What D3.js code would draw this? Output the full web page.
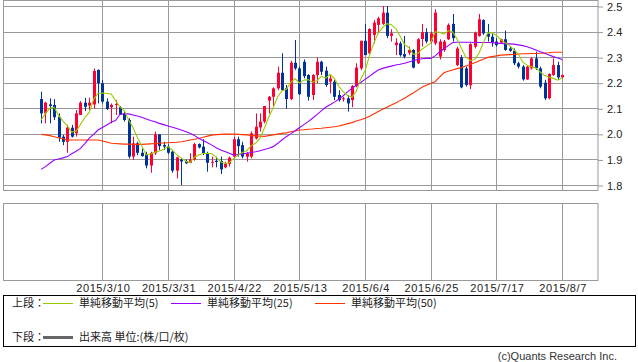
<!DOCTYPE html>
<html>
<head>
<meta charset="utf-8">
<script src="https://cdn.jsdelivr.net/npm/d3@7"></script>
<style>
body { margin: 0; background: #fff; }
text { font-family: "Liberation Sans", Arial, sans-serif; }
.jp { font-family: "Noto Sans CJK JP", sans-serif; }
</style>
</head>
<body>
<div id="chart"></div>
<script>
// daily candles, one entry per trading day (2015/2/18 .. 2015/8/7)
const openVals = [
  2.136, 2.080, 2.115, 2.113, 2.067, 1.989, 1.969, 2.024, 2.002, 2.074,
  2.122, 2.111, 2.115, 2.250, 2.198, 2.126, 2.104, 2.115, 2.104, 2.080,
  2.054, 1.911, 1.963, 1.926, 1.921, 1.876, 1.924, 1.998, 1.956, 1.950,
  1.930, 1.856, 1.900, 1.894, 1.887, 1.900, 1.960, 1.950, 1.924, 1.889,
  1.895, 1.894, 1.869, 1.882, 1.911, 1.979, 1.956, 1.911, 1.911, 1.982,
  2.025, 2.048, 2.130, 2.145, 2.178, 2.239, 2.178, 2.136, 2.278, 2.256,
  2.282, 2.230, 2.152, 2.230, 2.282, 2.247, 2.204, 2.204, 2.152, 2.135,
  2.139, 2.132, 2.187, 2.256, 2.364, 2.315, 2.387, 2.426, 2.430, 2.474,
  2.383, 2.347, 2.354, 2.312, 2.317, 2.328, 2.276, 2.371, 2.397, 2.361,
  2.354, 2.302, 2.328, 2.370, 2.430, 2.269, 2.299, 2.256, 2.190, 2.341,
  2.383, 2.445, 2.393, 2.380, 2.361, 2.357, 2.370, 2.334, 2.325, 2.276,
  2.263, 2.213, 2.256, 2.295, 2.256, 2.200, 2.139, 2.230, 2.269, 2.221
];
const highVals = [
  2.165, 2.126, 2.139, 2.136, 2.080, 1.996, 2.035, 2.035, 2.093, 2.128,
  2.141, 2.141, 2.256, 2.252, 2.211, 2.139, 2.119, 2.132, 2.109, 2.087,
  2.061, 1.989, 1.969, 1.943, 1.930, 1.930, 2.009, 1.998, 1.969, 1.959,
  1.937, 1.911, 1.904, 1.900, 1.924, 1.965, 1.963, 1.979, 1.930, 1.911,
  1.911, 1.911, 1.891, 1.911, 1.989, 1.989, 1.969, 1.930, 2.009, 2.080,
  2.080, 2.109, 2.148, 2.182, 2.263, 2.315, 2.191, 2.286, 2.367, 2.263,
  2.291, 2.234, 2.234, 2.299, 2.286, 2.263, 2.230, 2.211, 2.171, 2.145,
  2.152, 2.191, 2.276, 2.364, 2.430, 2.413, 2.445, 2.458, 2.500, 2.500,
  2.409, 2.374, 2.361, 2.383, 2.341, 2.331, 2.374, 2.430, 2.413, 2.400,
  2.487, 2.370, 2.367, 2.432, 2.469, 2.341, 2.308, 2.263, 2.355, 2.400,
  2.469, 2.448, 2.430, 2.393, 2.374, 2.372, 2.404, 2.341, 2.334, 2.282,
  2.269, 2.266, 2.299, 2.321, 2.263, 2.211, 2.237, 2.295, 2.282, 2.232
];
const lowVals = [
  2.041, 2.041, 2.041, 2.054, 1.969, 1.956, 1.926, 1.986, 1.989, 2.074,
  2.089, 2.093, 2.100, 2.119, 2.119, 2.093, 2.041, 2.074, 2.074, 2.048,
  1.904, 1.898, 1.917, 1.911, 1.865, 1.848, 1.917, 1.937, 1.937, 1.921,
  1.848, 1.826, 1.800, 1.882, 1.885, 1.895, 1.943, 1.917, 1.852, 1.869,
  1.869, 1.843, 1.865, 1.872, 1.904, 1.911, 1.904, 1.891, 1.904, 1.978,
  2.009, 2.041, 2.080, 2.109, 2.171, 2.169, 2.098, 2.132, 2.250, 2.152,
  2.217, 2.130, 2.132, 2.198, 2.230, 2.184, 2.158, 2.132, 2.126, 2.126,
  2.087, 2.104, 2.182, 2.250, 2.308, 2.312, 2.354, 2.393, 2.426, 2.374,
  2.361, 2.308, 2.302, 2.295, 2.308, 2.256, 2.273, 2.341, 2.354, 2.354,
  2.347, 2.291, 2.321, 2.367, 2.361, 2.265, 2.178, 2.185, 2.175, 2.334,
  2.380, 2.387, 2.361, 2.341, 2.341, 2.354, 2.325, 2.321, 2.269, 2.256,
  2.208, 2.211, 2.252, 2.250, 2.178, 2.132, 2.135, 2.227, 2.211, 2.219
];
const closeVals = [
  2.080, 2.122, 2.109, 2.065, 1.985, 1.969, 2.025, 1.989, 2.080, 2.122,
  2.106, 2.122, 2.246, 2.198, 2.126, 2.097, 2.113, 2.117, 2.076, 2.054,
  1.911, 1.963, 1.926, 1.913, 1.876, 1.926, 1.998, 1.952, 1.950, 1.926,
  1.856, 1.908, 1.892, 1.885, 1.900, 1.960, 1.947, 1.924, 1.887, 1.891,
  1.890, 1.861, 1.885, 1.907, 1.979, 1.952, 1.911, 1.924, 2.002, 2.028,
  2.048, 2.109, 2.145, 2.178, 2.239, 2.171, 2.136, 2.278, 2.256, 2.155,
  2.226, 2.145, 2.230, 2.282, 2.243, 2.191, 2.217, 2.145, 2.132, 2.139,
  2.119, 2.187, 2.259, 2.364, 2.308, 2.410, 2.435, 2.452, 2.474, 2.383,
  2.393, 2.357, 2.308, 2.302, 2.328, 2.259, 2.370, 2.397, 2.361, 2.393,
  2.474, 2.361, 2.361, 2.426, 2.374, 2.334, 2.182, 2.191, 2.351, 2.396,
  2.448, 2.393, 2.380, 2.357, 2.347, 2.370, 2.328, 2.325, 2.276, 2.263,
  2.213, 2.263, 2.295, 2.256, 2.185, 2.139, 2.234, 2.269, 2.221, 2.230
];
// moving averages as drawn on the chart
const ma5 = [
  2.054, 2.080, 2.100, 2.104, 2.072, 2.050, 2.031, 2.007, 2.010, 2.037,
  2.064, 2.084, 2.135, 2.159, 2.160, 2.158, 2.156, 2.130, 2.106, 2.091,
  2.054, 2.024, 1.986, 1.953, 1.918, 1.921, 1.928, 1.933, 1.940, 1.950,
  1.936, 1.918, 1.906, 1.893, 1.888, 1.909, 1.917, 1.923, 1.924, 1.922,
  1.908, 1.891, 1.883, 1.887, 1.904, 1.917, 1.927, 1.935, 1.954, 1.963,
  1.983, 2.022, 2.066, 2.102, 2.144, 2.168, 2.174, 2.200, 2.216, 2.199,
  2.210, 2.212, 2.202, 2.208, 2.225, 2.218, 2.233, 2.216, 2.186, 2.165,
  2.150, 2.144, 2.167, 2.214, 2.247, 2.306, 2.355, 2.394, 2.416, 2.431,
  2.427, 2.412, 2.383, 2.349, 2.338, 2.311, 2.313, 2.331, 2.343, 2.356,
  2.399, 2.397, 2.390, 2.403, 2.399, 2.371, 2.335, 2.301, 2.286, 2.291,
  2.314, 2.356, 2.394, 2.395, 2.385, 2.369, 2.356, 2.345, 2.329, 2.312,
  2.281, 2.268, 2.262, 2.258, 2.242, 2.228, 2.222, 2.217, 2.210, 2.219
];
const ma25 = [
  1.861, 1.872, 1.885, 1.898, 1.902, 1.906, 1.911, 1.922, 1.932, 1.943,
  1.962, 1.983, 1.998, 2.015, 2.025, 2.035, 2.045, 2.052, 2.076, 2.078,
  2.078, 2.074, 2.070, 2.065, 2.058, 2.052, 2.047, 2.041, 2.036, 2.031,
  2.026, 2.021, 2.015, 2.009, 2.002, 1.994, 1.983, 1.974, 1.965, 1.956,
  1.946, 1.937, 1.931, 1.924, 1.917, 1.919, 1.921, 1.924, 1.927, 1.930,
  1.934, 1.939, 1.944, 1.950, 1.962, 1.976, 1.989, 2.000, 2.012, 2.024,
  2.036, 2.048, 2.061, 2.075, 2.090, 2.104, 2.114, 2.124, 2.135, 2.149,
  2.164, 2.178, 2.190, 2.201, 2.213, 2.225, 2.238, 2.250, 2.256, 2.261,
  2.265, 2.269, 2.272, 2.276, 2.281, 2.286, 2.291, 2.294, 2.295, 2.295,
  2.305, 2.320, 2.333, 2.345, 2.357, 2.358, 2.358, 2.358, 2.358, 2.357,
  2.357, 2.357, 2.357, 2.356, 2.355, 2.354, 2.353, 2.352, 2.351, 2.348,
  2.345, 2.341, 2.335, 2.328, 2.321, 2.315, 2.308, 2.302, 2.297, 2.291
];
const ma50 = [
  1.998, 1.996, 1.993, 1.989, 1.985, 1.981, 1.976, 1.976, 1.976, 1.976,
  1.976, 1.976, 1.976, 1.976, 1.972, 1.968, 1.963, 1.962, 1.961, 1.960,
  1.960, 1.959, 1.959, 1.959, 1.960, 1.961, 1.962, 1.963, 1.964, 1.965,
  1.966, 1.967, 1.969, 1.972, 1.976, 1.979, 1.982, 1.987, 1.991, 1.995,
  1.997, 1.998, 1.999, 1.999, 1.999, 1.998, 1.997, 1.996, 1.994, 1.992,
  1.991, 1.990, 1.993, 1.996, 1.999, 2.002, 2.004, 2.008, 2.011, 2.015,
  2.016, 2.018, 2.019, 2.021, 2.022, 2.024, 2.026, 2.028, 2.031, 2.035,
  2.040, 2.044, 2.050, 2.055, 2.061, 2.069, 2.078, 2.087, 2.096, 2.104,
  2.113, 2.121, 2.130, 2.139, 2.150, 2.160, 2.171, 2.182, 2.190, 2.197,
  2.204, 2.222, 2.239, 2.245, 2.250, 2.255, 2.259, 2.265, 2.271, 2.278,
  2.285, 2.292, 2.299, 2.302, 2.305, 2.308, 2.309, 2.310, 2.311, 2.312,
  2.313, 2.313, 2.314, 2.314, 2.315, 2.316, 2.317, 2.319, 2.319, 2.319
];
// bar index of each dated gridline
const tickIndex = [14, 29, 44, 59, 74, 89, 104, 119];
const tickLabels = ["2015/3/10", "2015/3/31", "2015/4/22", "2015/5/13", "2015/6/4", "2015/6/25", "2015/7/17", "2015/8/7"];
const priceTicks = [1.8, 1.9, 2.0, 2.1, 2.2, 2.3, 2.4, 2.5];

var width = 638, height = 362;
const gridColor = "#999999";

const svg = d3.select("#chart")
    .append("svg")
    .attr("width", width)
    .attr("height", height);

var xScale = d3.scaleLinear()
    .domain([-8.7, 127.2])
    .range([3, 598]);

var yScale = d3.scaleLinear()
    .domain([1.8, 2.5])
    .range([185, 6]);

const panelTop = 0.5, panelBottom = 190.5;
const volTop = 203.5, volBottom = 280.5;

// horizontal grid
svg.selectAll(".hgrid")
    .data(priceTicks)
    .enter().append("line")
    .attr("x1", 3).attr("x2", 598)
    .attr("y1", d => Math.round(yScale(d)) + 0.5)
    .attr("y2", d => Math.round(yScale(d)) + 0.5)
    .attr("stroke", gridColor);

// vertical grid, price and volume panels
[[panelTop, panelBottom], [volTop, volBottom]].forEach(function(p) {
    svg.selectAll(null)
        .data(tickIndex)
        .enter().append("line")
        .attr("x1", d => Math.round(xScale(d)) + 0.5)
        .attr("x2", d => Math.round(xScale(d)) + 0.5)
        .attr("y1", p[0]).attr("y2", p[1])
        .attr("stroke", gridColor);
    svg.append("rect")
        .attr("x", 3.5).attr("y", p[0])
        .attr("width", 594.5).attr("height", p[1] - p[0])
        .attr("fill", "none")
        .attr("stroke", gridColor);
});

// right price axis
const yAxis = svg.append("g")
    .attr("transform", "translate(598,0.5)")
    .call(d3.axisRight(yScale).tickValues(priceTicks).tickSize(5).tickPadding(4).tickFormat(d3.format(".1f")));
yAxis.select(".domain").remove();
yAxis.selectAll("line").attr("stroke", gridColor);
yAxis.selectAll("text")
    .style("font-family", "'Liberation Sans', Arial, sans-serif")
    .style("font-size", "11px")
    .attr("fill", "#222");

// date labels
svg.selectAll(".xlab")
    .data(tickIndex)
    .enter().append("text")
    .attr("x", d => xScale(d) + 1)
    .attr("y", 292)
    .attr("text-anchor", "middle")
    .style("font-size", "11px")
    .style("letter-spacing", "0.6px")
    .attr("fill", "#222")
    .text((d, i) => tickLabels[i]);

// moving averages
function maLine(vals, color) {
    var line = d3.line()
        .x((d, i) => xScale(i))
        .y(d => yScale(d));
    svg.append("path")
        .datum(vals)
        .attr("d", line)
        .attr("fill", "none")
        .attr("stroke", color)
        .attr("stroke-width", 1.1);
}

// candles
var idx = d3.range(closeVals.length);
const candles = svg.selectAll(".candle")
    .data(idx)
    .enter().append("g");

candles.append("line")
    .attr("x1", i => Math.round(xScale(i)) + 0.5)
    .attr("x2", i => Math.round(xScale(i)) + 0.5)
    .attr("y1", i => yScale(highVals[i]))
    .attr("y2", i => yScale(lowVals[i]))
    .attr("stroke", i => closeVals[i] >= openVals[i] ? "#ff0033" : "#003399");

candles.append("rect")
    .attr("x", i => Math.round(xScale(i)) - 1)
    .attr("width", 3)
    .attr("y", i => yScale(Math.max(openVals[i], closeVals[i])))
    .attr("height", i => Math.max(1, Math.abs(yScale(openVals[i]) - yScale(closeVals[i]))))
    .attr("fill", i => closeVals[i] >= openVals[i] ? "#ff0033" : "#003399");

maLine(ma50, "#ff3300");
maLine(ma25, "#9900ff");
maLine(ma5, "#99cc00");

// legend box
svg.append("rect")
    .attr("x", 3.5).attr("y", 295.5)
    .attr("width", 632).attr("height", 51)
    .attr("fill", "none")
    .attr("stroke", "#000");

const legendItems = [
    {label: "単純移動平均(5)", color: "#99cc00", x: 43},
    {label: "単純移動平均(25)", color: "#9900ff", x: 171},
    {label: "単純移動平均(50)", color: "#ff3300", x: 315}
];

svg.append("text").attr("class", "jp")
    .attr("x", 12).attr("y", 307)
    .style("font-size", "11px").attr("fill", "#222")
    .text("上段：");

const legend = svg.selectAll(".legend")
    .data(legendItems)
    .enter().append("g");
legend.append("line")
    .attr("x1", d => d.x).attr("x2", d => d.x + 30)
    .attr("y1", 303.5).attr("y2", 303.5)
    .attr("stroke", d => d.color);
legend.append("text").attr("class", "jp")
    .attr("x", d => d.x + 36).attr("y", 307)
    .style("font-size", "11px").attr("fill", "#222")
    .text(d => d.label);

svg.append("text").attr("class", "jp")
    .attr("x", 12).attr("y", 341)
    .style("font-size", "11px").attr("fill", "#222")
    .text("下段：");
svg.append("line")
    .attr("x1", 43).attr("x2", 73)
    .attr("y1", 337.5).attr("y2", 337.5)
    .attr("stroke", "#666").attr("stroke-width", 3);
svg.append("text").attr("class", "jp")
    .attr("x", 79).attr("y", 341)
    .style("font-size", "11px").attr("fill", "#222")
    .text("出来高 単位:(株/口/枚)");

svg.append("text")
    .attr("x", 617).attr("y", 360)
    .attr("text-anchor", "end")
    .style("font-size", "11px")
    .attr("fill", "#333")
    .text("(c)Quants Research Inc.");
</script>
</body>
</html>
